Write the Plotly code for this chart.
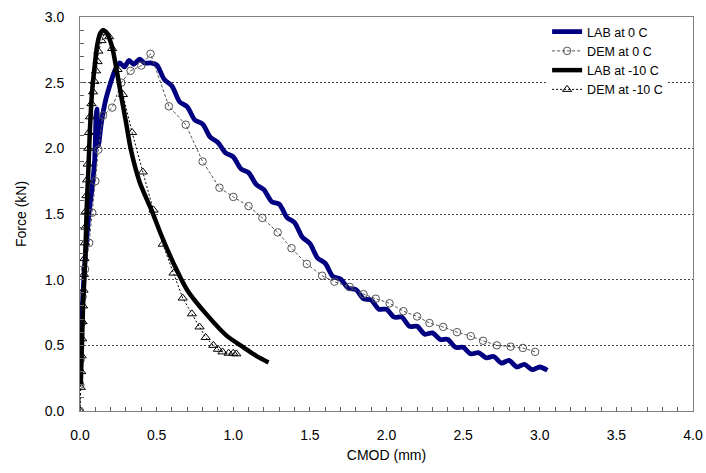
import plotly.graph_objects as go

# Force vs. crack-mouth opening displacement (CMOD)
# LAB at 0 C: laboratory test
lab0_x = [0.0, 0.008, 0.015, 0.022, 0.03, 0.045, 0.06, 0.08, 0.095, 0.10, 0.105, 0.11, 0.115, 0.12,
          0.14, 0.17, 0.20, 0.23, 0.26, 0.29, 0.32, 0.35, 0.39, 0.42, 0.46,
          0.50, 0.55, 0.60, 0.65, 0.70, 0.75, 0.80, 0.85, 0.90, 0.95, 1.00, 1.05, 1.10, 1.15,
          1.20, 1.25, 1.30, 1.35, 1.40, 1.45, 1.50, 1.55, 1.60, 1.65, 1.70, 1.75, 1.80, 1.85,
          1.90, 1.95, 2.00, 2.05, 2.10, 2.15, 2.20, 2.25, 2.30, 2.35, 2.40, 2.45, 2.50, 2.55,
          2.60, 2.65, 2.70, 2.75, 2.80, 2.85, 2.90, 2.95, 3.00, 3.05]
lab0_y = [0.30, 0.55, 0.80, 0.95, 1.10, 1.33, 1.52, 1.71, 1.90, 2.05, 2.25, 2.30, 2.12, 2.02,
          2.20, 2.38, 2.50, 2.60, 2.65, 2.62, 2.67, 2.64, 2.68, 2.65, 2.65,
          2.635, 2.525, 2.475, 2.355, 2.315, 2.215, 2.185, 2.085, 2.045, 1.965, 1.935, 1.845,
          1.815, 1.725, 1.685, 1.595, 1.575, 1.475, 1.435, 1.325, 1.275, 1.165, 1.125, 1.025,
          1.005, 0.935, 0.925, 0.855, 0.845, 0.775, 0.775, 0.715, 0.715, 0.645, 0.645, 0.585,
          0.595, 0.545, 0.545, 0.485, 0.485, 0.435, 0.445, 0.405, 0.415, 0.365, 0.385, 0.335,
          0.355, 0.315, 0.335, 0.31]

# DEM at 0 C: simulation
dem0_x = [0.0, 0.002, 0.004, 0.011, 0.017, 0.033, 0.06, 0.08, 0.10, 0.12, 0.15, 0.21, 0.27, 0.33,
          0.40, 0.46, 0.58, 0.69, 0.80, 0.91, 1.00, 1.10, 1.19, 1.29, 1.38, 1.48, 1.58, 1.66,
          1.76, 1.85, 1.93, 2.02, 2.11, 2.20, 2.28, 2.37, 2.46, 2.55, 2.63, 2.72, 2.81, 2.89, 2.97]
dem0_y = [0.0, 0.20, 0.39, 0.67, 0.87, 1.08, 1.28, 1.51, 1.75, 1.99, 2.25, 2.31, 2.50, 2.59,
          2.63, 2.72, 2.32, 2.18, 1.90, 1.70, 1.63, 1.56, 1.47, 1.36, 1.24, 1.12, 1.03, 0.985,
          0.945, 0.89, 0.855, 0.82, 0.76, 0.72, 0.67, 0.64, 0.60, 0.57, 0.535, 0.50, 0.49, 0.48, 0.45]

# LAB at -10 C
lab10_x = [0.005, 0.01, 0.015, 0.02, 0.028, 0.035, 0.045, 0.055, 0.065, 0.08, 0.095, 0.11, 0.13,
           0.15, 0.175, 0.21, 0.24, 0.27, 0.30, 0.33, 0.39, 0.47, 0.53, 0.62, 0.70, 0.83, 0.96,
           1.06, 1.15, 1.23]
lab10_y = [0.20, 0.40, 0.60, 0.80, 1.00, 1.20, 1.59, 1.85, 2.15, 2.45, 2.62, 2.77, 2.87,
           2.90, 2.88, 2.77, 2.59, 2.39, 2.20, 2.00, 1.74, 1.52, 1.34, 1.10, 0.92, 0.73, 0.57,
           0.49, 0.42, 0.37]

# DEM at -10 C
dem10_x = [0.0, 0.005, 0.008, 0.011, 0.014, 0.017, 0.02, 0.023, 0.026, 0.029, 0.032, 0.035, 0.038,
           0.042, 0.046, 0.05, 0.054, 0.058, 0.065, 0.075, 0.085, 0.095, 0.105, 0.115, 0.12, 0.14,
           0.16, 0.19, 0.21, 0.245, 0.28, 0.34, 0.41, 0.48, 0.54, 0.61, 0.67, 0.73, 0.78, 0.82,
           0.87, 0.90, 0.93, 0.97, 1.00, 1.02]
dem10_y = [0.0, 0.18, 0.30, 0.42, 0.55, 0.68, 0.80, 0.92, 1.04, 1.16, 1.28, 1.40, 1.52,
           1.64, 1.76, 1.88, 2.00, 2.12, 2.24, 2.34, 2.43, 2.51, 2.59, 2.66, 2.74, 2.82,
           2.88, 2.85, 2.76, 2.60, 2.41, 2.12, 1.82, 1.53, 1.27, 1.05, 0.86, 0.74, 0.64, 0.56,
           0.50, 0.47, 0.45, 0.44, 0.44, 0.435]

FONT = "Liberation Sans, Arial, sans-serif"

fig = go.Figure()
fig.add_trace(go.Scatter(x=lab0_x, y=lab0_y, mode="lines", name="LAB at 0 C",
                         line=dict(color="#000080", width=4.8, shape="spline", smoothing=0.8)))
fig.add_trace(go.Scatter(x=dem0_x, y=dem0_y, mode="lines+markers", name="DEM at 0 C",
                         line=dict(color="#555555", width=1, dash="3px,2px"),
                         marker=dict(symbol="circle-open", size=7.5, color="#555555",
                                     line=dict(width=1))))
fig.add_trace(go.Scatter(x=lab10_x, y=lab10_y, mode="lines", name="LAB at -10 C",
                         line=dict(color="#000000", width=4.5, shape="spline", smoothing=0.6)))
fig.add_trace(go.Scatter(x=dem10_x, y=dem10_y, mode="lines+markers", name="DEM at -10 C",
                         line=dict(color="#000000", width=1, dash="2px,2px"),
                         marker=dict(symbol="triangle-up-open", size=8, color="#000000",
                                     line=dict(width=1))))

fig.update_layout(
    template="none",
    width=706, height=473,
    margin=dict(l=80, r=13, t=17, b=62, autoexpand=False),
    paper_bgcolor="white", plot_bgcolor="white",
    font=dict(family=FONT, size=14, color="black"),
    showlegend=True,
    legend=dict(x=0.762, y=1.0, xanchor="left", yanchor="top",
                bgcolor="white", borderwidth=0, font=dict(family=FONT, size=12.5),
                tracegroupgap=0, itemwidth=30),
)

fig.update_xaxes(
    range=[0, 4], dtick=0.5, tick0=0, tickformat=".1f", automargin=False,
    showline=True, linecolor="#808080", linewidth=1, mirror=True,
    ticks="inside", ticklen=4, tickcolor="#606060",
    minor=dict(dtick=0.1, ticks="inside", ticklen=4, tickcolor="#606060", showgrid=False),
    showgrid=False, zeroline=False,
    ticklabelstandoff=11,
    title=dict(text="CMOD (mm)", font=dict(size=14), standoff=8),
)
fig.update_yaxes(
    range=[0, 3], dtick=0.5, tick0=0, tickformat=".1f", automargin=False,
    showline=True, linecolor="#808080", linewidth=1, mirror=True,
    ticks="inside", ticklen=4, tickcolor="#606060",
    minor=dict(dtick=0.1, ticks="inside", ticklen=4, tickcolor="#606060", showgrid=False),
    showgrid=True, gridcolor="#404040", gridwidth=1, griddash="2px,2px",
    zeroline=False,
    ticklabelstandoff=12,
    title=dict(text="Force (kN)", font=dict(size=14), standoff=14),
)

fig.write_html("out.html")
